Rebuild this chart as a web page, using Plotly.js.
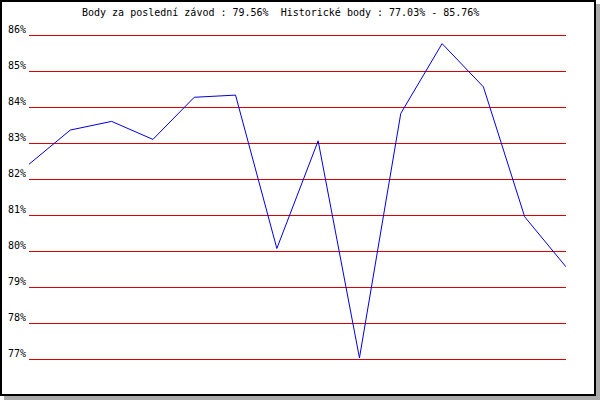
<!DOCTYPE html>
<html>
<head>
<meta charset="utf-8">
<script src="https://cdn.plot.ly/plotly-3.0.1.min.js"></script>
<style>
  html, body { margin: 0; padding: 0; background: #ffffff; }
  #frame {
    position: absolute; left: 0; top: 0;
    width: 592px; height: 392px;
    border: 2px solid #000000;
    box-shadow: 4px 4px 0 #aaaaaa;
    background: #ffffff;
  }
  #chart { width: 592px; height: 392px; }
</style>
</head>
<body>
<div id="frame"><div id="chart"></div></div>
<script>
const races = [1, 2, 3, 4, 5, 6, 7, 8, 9, 10, 11, 12, 13, 14];
const points = [82.41, 83.36, 83.60, 83.10, 84.27, 84.33, 80.07, 83.06, 77.03, 83.82, 85.76, 84.56, 80.95, 79.56];
const yTicks = [77, 78, 79, 80, 81, 82, 83, 84, 85, 86];
const titleText = 'Body za poslední závod : 79.56%  Historické body : 77.03% - 85.76%';

const mono = 'DejaVu Sans Mono, Liberation Mono, monospace';

const trace = {
  x: races,
  y: points,
  type: 'scatter',
  mode: 'lines',
  line: { color: '#0000dd', width: 1 },
  hoverinfo: 'skip'
};

const layout = {
  width: 592,
  height: 392,
  margin: { l: 27, r: 28, t: 29, b: 31, pad: 0 },
  paper_bgcolor: '#ffffff',
  plot_bgcolor: '#ffffff',
  showlegend: false,
  title: {
    text: titleText,
    font: { family: mono, size: 10, color: '#000000' },
    xref: 'container', x: 80 / 592, xanchor: 'left',
    yref: 'container', y: 1 - 7 / 392, yanchor: 'top'
  },
  xaxis: {
    range: [races[0], races[races.length - 1]],
    showgrid: false, zeroline: false, showline: false,
    showticklabels: false, ticks: ''
  },
  yaxis: {
    range: [77 - 1 / 9, 86 + 1 / 9],
    tickmode: 'array',
    tickvals: yTicks,
    ticktext: yTicks.map(v => v + '%'),
    showgrid: true,
    gridcolor: '#dd0000',
    gridwidth: 1,
    zeroline: false, showline: false, ticks: '',
    ticklabelshift: -6,
    ticklabelstandoff: 2,
    tickfont: { family: mono, size: 10, color: '#000000' }
  }
};

Plotly.newPlot('chart', [trace], layout, { staticPlot: true, displayModeBar: false });
</script>
</body>
</html>
